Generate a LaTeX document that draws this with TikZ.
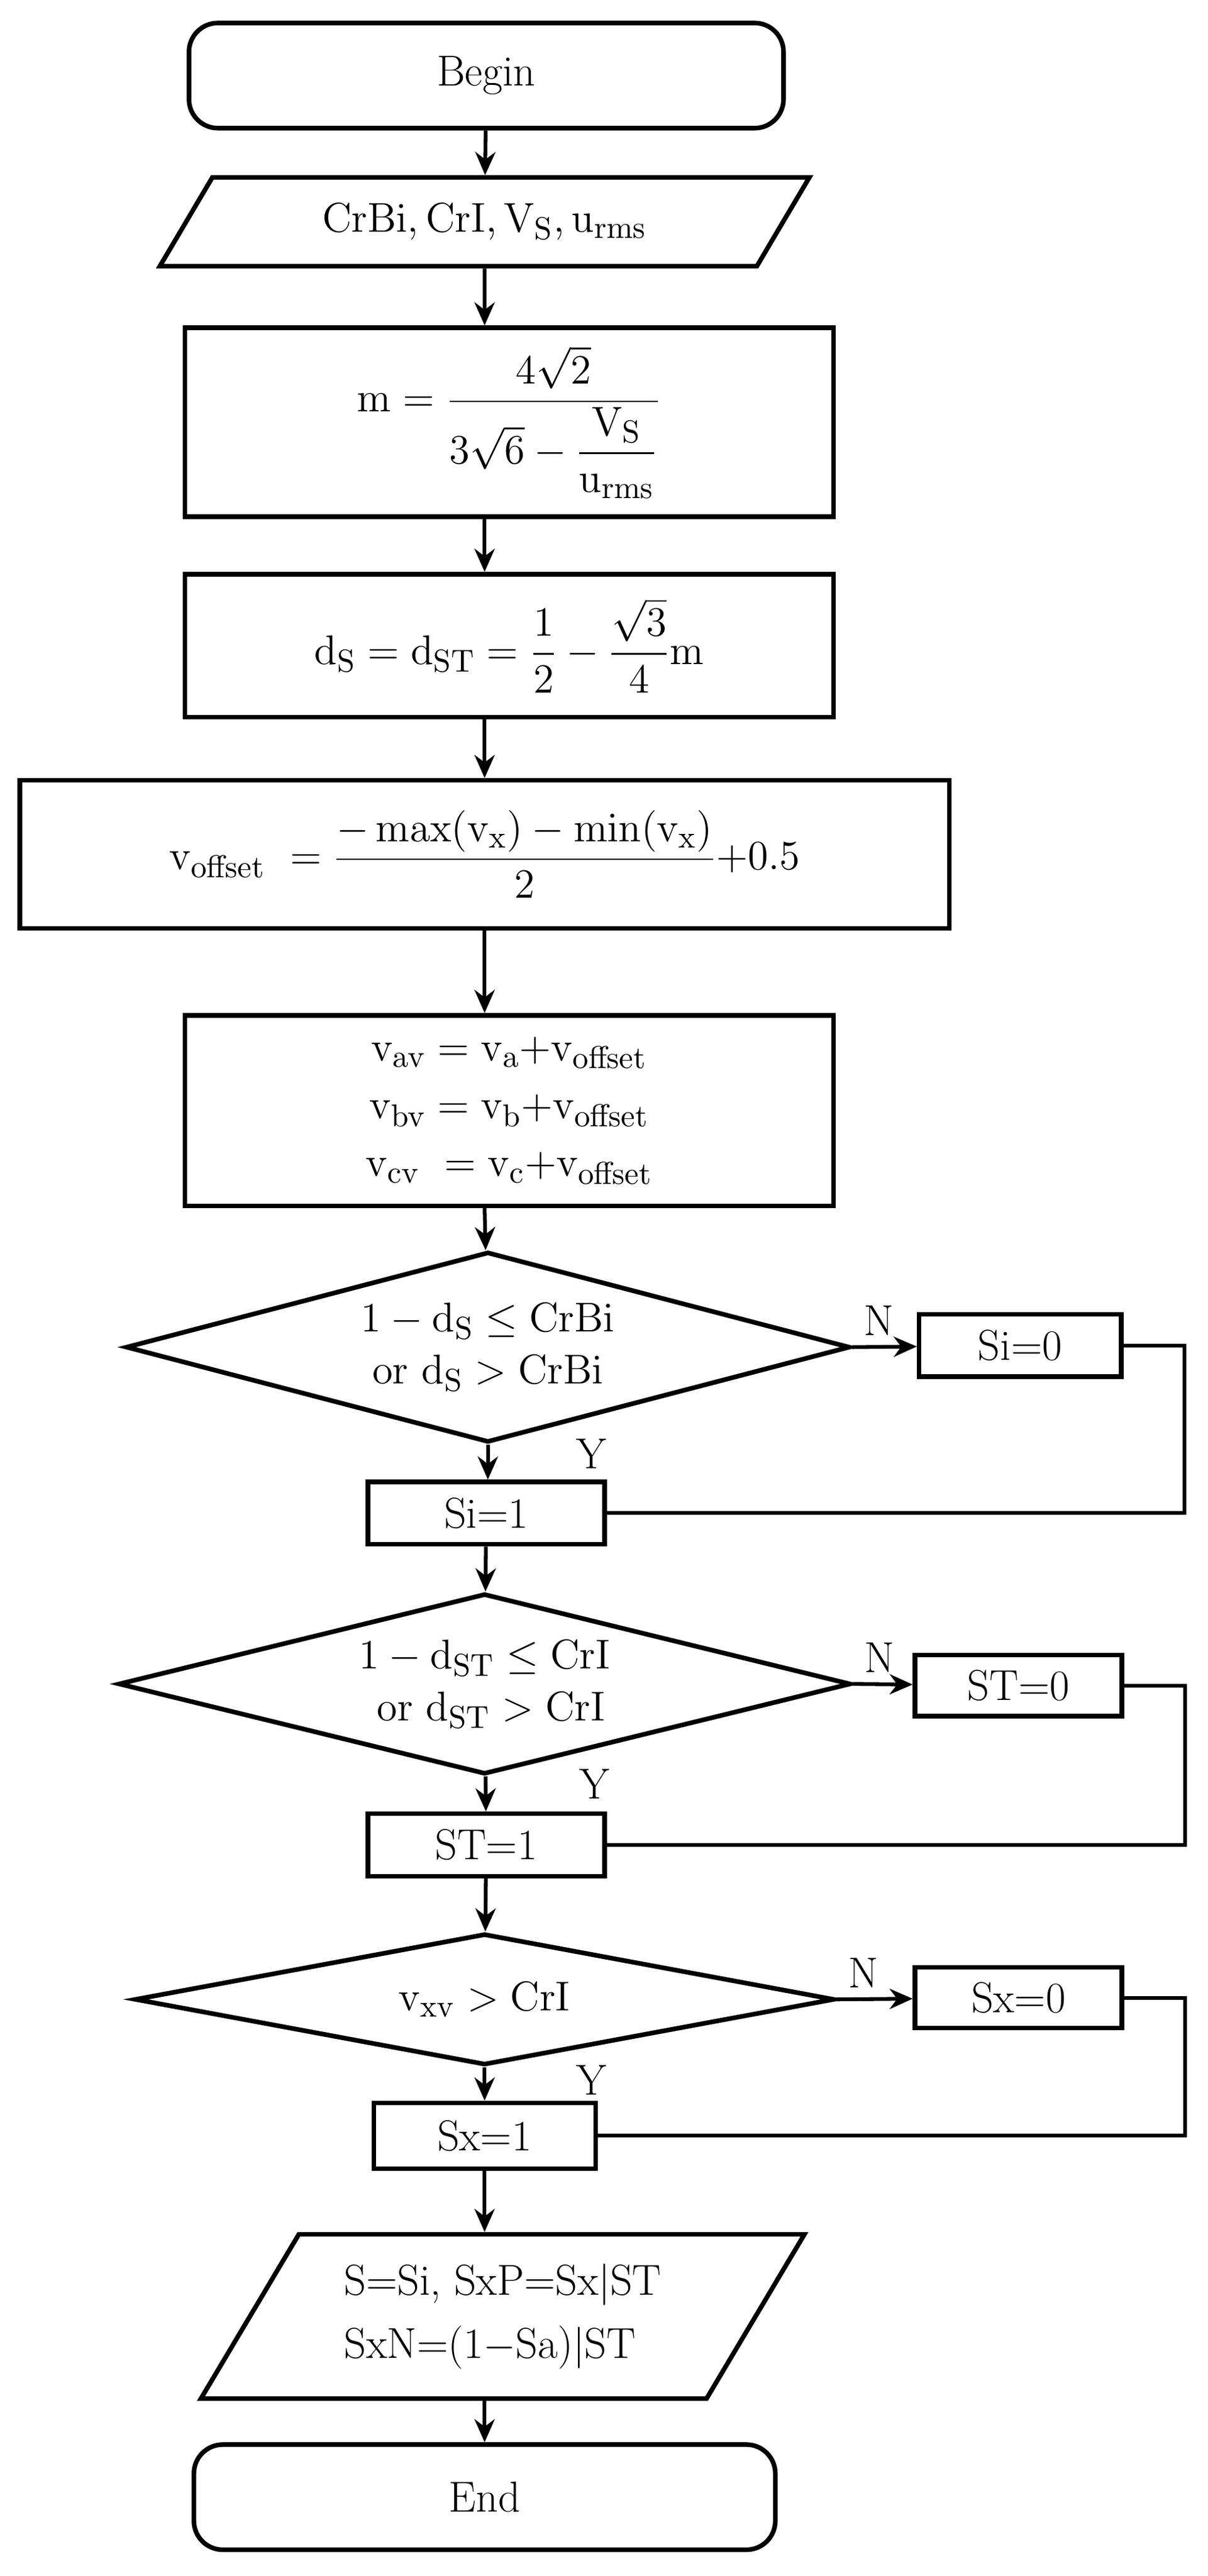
\documentclass[tikz,border=0pt]{standalone}
\usepackage{amsmath}
\usetikzlibrary{shapes.geometric,arrows.meta}
\newcommand{\rmv}[1]{\mathrm{#1}}
\begin{document}
\begin{tikzpicture}[x=0.02cm,y=-0.02cm,>={Stealth[length=8pt,width=7pt]},
  line width=1.3pt,font=\fontsize{15}{18}\selectfont]
  \tikzstyle{box}=[rectangle,draw=black,line width=1.6pt,inner sep=2pt]
  \tikzstyle{term}=[box,rounded corners=10pt]
  \tikzstyle{io}=[trapezium,draw=black,line width=1.6pt,trapezium left angle=56,
    trapezium right angle=124,trapezium stretches=true,inner sep=2pt]
  \tikzstyle{test}=[diamond,draw=black,line width=1.6pt,inner sep=0pt]
  \useasboundingbox (0,0) rectangle (735,1568);

  \node [term,minimum width=7.24cm,minimum height=1.28cm] (begin) at (296,46) {Begin};
  \node [io,minimum width=7.92cm,minimum height=1.08cm] (in) at (295,135)
    {$\rmv{CrBi,CrI,V_S,u_{rms}}$};
  \node [box,minimum width=7.9cm,minimum height=2.3cm] (m) at (310,257)
    {$\rmv{m}=\dfrac{4\sqrt{2}}{3\sqrt{6}-\dfrac{\rmv{V_S}}{\rmv{u_{rms}}}}$};
  \node [box,minimum width=7.9cm,minimum height=1.74cm] (ds) at (310,393)
    {$\rmv{d_S}=\rmv{d_{ST}}=\dfrac{1}{2}-\dfrac{\sqrt{3}}{4}\rmv{m}$};
  \node [box,minimum width=11.32cm,minimum height=1.8cm] (off) at (295,520)
    {$\rmv{v_{offset}}\ =\dfrac{-\max(\rmv{v_x})-\min(\rmv{v_x})}{2}{+}0.5$};
  \node [box,minimum width=7.9cm,minimum height=2.32cm,align=center] (vv) at (310,676)
    {$\rmv{v_{av}}=\rmv{v_a}{+}\rmv{v_{offset}}$\\[2pt]
     $\rmv{v_{bv}}=\rmv{v_b}{+}\rmv{v_{offset}}$\\[2pt]
     $\rmv{v_{cv}}\ =\rmv{v_c}{+}\rmv{v_{offset}}$};

  % first test
  \node [test,aspect=3.8,minimum width=8.82cm,minimum height=2.32cm,align=center] (t1) at (297,820)
    {$1-\rmv{d_S}\le\rmv{CrBi}$\\$\rmv{or}\ \rmv{d_S}>\rmv{CrBi}$};
  \node [box,minimum width=2.46cm,minimum height=0.76cm] (si0) at (621,819) {Si=0};
  \node [box,minimum width=2.88cm,minimum height=0.76cm] (si1) at (296,921) {Si=1};

  % second test
  \node [test,aspect=4.05,minimum width=8.92cm,minimum height=2.2cm,align=center] (t2) at (295,1025)
    {$1-\rmv{d_{ST}}\le\rmv{CrI}$\\$\ \rmv{or}\ \rmv{d_{ST}}>\rmv{CrI}$};
  \node [box,minimum width=2.52cm,minimum height=0.74cm] (st0) at (620,1026) {ST=0};
  \node [box,minimum width=2.88cm,minimum height=0.76cm] (st1) at (296,1123) {ST=1};

  % third test
  \node [test,aspect=5.3,minimum width=8.52cm,minimum height=1.6cm] (t3) at (295,1217)
    {$\rmv{v_{xv}}>\rmv{CrI}$};
  \node [box,minimum width=2.52cm,minimum height=0.74cm] (sx0) at (620,1216) {Sx=0};
  \node [box,minimum width=2.7cm,minimum height=0.8cm] (sx1) at (295,1300) {Sx=1};

  \node [io,minimum width=7.36cm,minimum height=2cm,align=left] (out) at (306,1410)
    {S=Si, SxP=Sx$|$ST\\[4pt]SxN=(1$-$Sa)$|$ST};
  \node [term,minimum width=7.08cm,minimum height=1.28cm] (end) at (295,1520) {End};

  \draw [->] (begin) -- (in);
  \draw [->] (in) -- (in |- m.north);
  \draw [->] (m.south -| in) -- (in |- ds.north);
  \draw [->] (ds.south -| in) -- (off);
  \draw [->] (off.south) -- (off.south |- vv.north);
  \draw [->] (vv.south -| off.south) -- (t1);
  \draw [->] (t1) -- (t1 |- si1.north);
  \draw [->] (t1.east) -- (si0) node [pos=0,above right] {N};
  \draw (si0.east) -- ++(37,0) |- (si1.east);
  \node at (360,885) {Y};
  \draw [->] (si1) -- (t2);
  \draw [->] (t2) -- (st1);
  \draw [->] (t2.east) -- (st0) node [pos=0,above right] {N};
  \draw (st0.east) -- ++(37,0) |- (st1.east);
  \node at (362,1086) {Y};
  \draw [->] (st1) -- (t3);
  \draw [->] (t3) -- (sx1);
  \draw [->] (t3.east) -- (sx0) node [pos=0,above right] {N};
  \draw (sx0.east) -- ++(37,0) |- (sx1.east);
  \node at (360,1266) {Y};
  \draw [->] (sx1) -- (sx1 |- out.north);
  \draw [->] (out.south -| sx1) -- (end);
\end{tikzpicture}
\end{document}
